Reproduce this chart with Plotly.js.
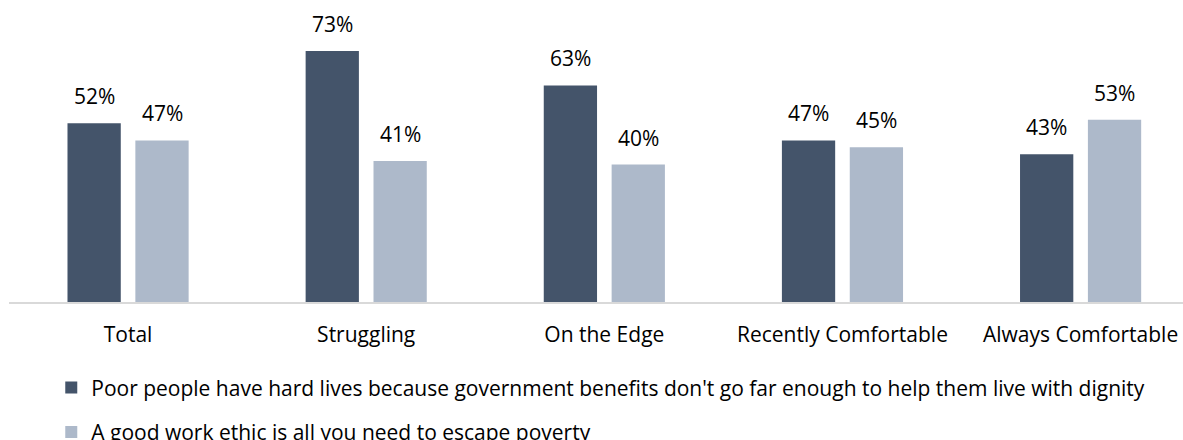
<!DOCTYPE html>
<html>
<head>
<meta charset="utf-8">
<script src="https://cdn.plot.ly/plotly-3.0.1.min.js"></script>
<style>
  html, body { margin: 0; padding: 0; background: #ffffff; overflow: hidden; }
  #chart { width: 1183px; height: 440px; }
</style>
</head>
<body>
<div id="chart"></div>
<script>
const categories = ["Total", "Struggling", "On the Edge", "Recently Comfortable", "Always Comfortable"];
const seriesNames = [
  "Poor people have hard lives because government benefits don't go far enough to help them live with dignity",
  "A good work ethic is all you need to escape poverty"
];
const governmentBenefits = [52, 73, 63, 47, 43];
const workEthic = [47, 41, 40, 45, 53];
const seriesValues = [governmentBenefits, workEthic];
const seriesColors = ["#44546A", "#ADB9CA"];

const FONT = "Open Sans, sans-serif";
const FS = 21;

const traces = seriesValues.map((vals, i) => ({
  type: "bar",
  name: seriesNames[i],
  x: categories,
  y: vals,
  marker: { color: seriesColors[i] },
  legendgroup: "g" + i,
  hoverinfo: "x+y"
}));

const offsets = [-34, 34];
const annotations = [];
seriesValues.forEach((vals, i) => {
  vals.forEach((v, j) => {
    annotations.push({
      x: categories[j], y: v, xref: "x", yref: "y",
      text: v + "%",
      showarrow: false,
      xshift: offsets[i],
      yanchor: "bottom",
      yshift: 11,
      font: { family: FONT, size: FS, color: "#000000" }
    });
  });
});

const layout = {
  width: 1183,
  height: 440,
  margin: { l: 9, r: 0, t: 27, b: 138, autoexpand: false },
  paper_bgcolor: "#ffffff",
  plot_bgcolor: "#ffffff",
  barmode: "group",
  bargap: 0.43,
  bargroupgap: 0.215,
  font: { family: FONT, size: FS, color: "#000000" },
  xaxis: {
    type: "category",
    range: [-0.5, 4.43],
    showline: true,
    linecolor: "#D9D9D9",
    linewidth: 1.5,
    ticks: "",
    showgrid: false,
    zeroline: false,
    ticklabelstandoff: 13,
    tickfont: { family: FONT, size: FS, color: "#000000" },
    fixedrange: true
  },
  yaxis: {
    range: [0, 80],
    showgrid: false,
    zeroline: false,
    showline: false,
    showticklabels: false,
    ticks: "",
    fixedrange: true
  },
  showlegend: true,
  legend: {
    orientation: "v",
    traceorder: "grouped",
    tracegroupgap: 14,
    x: 0.036,
    xanchor: "left",
    y: -0.238,
    yanchor: "top",
    font: { family: FONT, size: FS, color: "#000000" },
    bgcolor: "rgba(0,0,0,0)"
  },
  annotations: annotations
};

Plotly.newPlot("chart", traces, layout, { displayModeBar: false, staticPlot: true });
</script>
</body>
</html>
